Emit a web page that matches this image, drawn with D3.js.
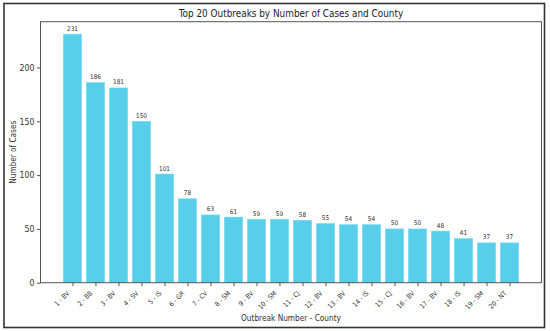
<!DOCTYPE html>
<html><head><meta charset="utf-8">
<script src="https://cdn.jsdelivr.net/npm/d3@7"></script>
<style>body{margin:0;background:#fff}svg{display:block}text{font-stretch:condensed}</style>
</head><body>
<script>
const labels = ["1 - BV","2 - BB","3 - BV","4 - SV","5 - IS","6 - GR","7 - CV","8 - SM","9 - BV","10 - SM","11 - CJ","12 - BV","13 - BV","14 - IS","15 - CJ","16 - BV","17 - BV","18 - IS","19 - SM","20 - NT"];
const cases = [231,186,181,150,101,78,63,61,59,59,58,55,54,54,50,50,48,41,37,37];
const yTicks = [0,50,100,150,200];

const W=550,H=331;
const m={l:40.5,r:541.5,t:21.7,b:282.7};
const svg=d3.select("body").append("svg").attr("width",W).attr("height",H);
const font="'DejaVu Sans Condensed', 'DejaVu Sans', sans-serif";

svg.append("rect").attr("x",4).attr("y",3.5).attr("width",540.5).attr("height",324)
  .attr("fill","#fff").attr("stroke","#333").attr("stroke-width",1.6);

const x=d3.scaleLinear().domain([-1.39,labels.length-1+1.39]).range([m.l,m.r]);
const y=d3.scaleLinear().domain([0,d3.max(cases)*1.05]).range([m.b,m.t]);
const bw=x(0.4)-x(-0.4);

const g=svg.append("g");
g.selectAll("rect.bar").data(cases).join("rect").attr("class","bar")
  .attr("x",(d,i)=>x(i)-bw/2).attr("width",bw)
  .attr("y",d=>y(d)).attr("height",d=>y(0)-y(d))
  .attr("fill","#58CEEB").attr("stroke","#7fdcf2").attr("stroke-width",0.6);

function fit(sel,target){const n=sel.node();const l=n.getComputedTextLength();const fs=+sel.attr("font-size");sel.attr("font-size",fs*target/l);}

const vals=g.selectAll("text.val").data(cases).join("text").attr("class","val")
  .attr("x",(d,i)=>x(i)).attr("y",d=>y(d)-3.5)
  .attr("text-anchor","middle").attr("font-family",font).attr("font-size",6.5).attr("fill","#333")
  .text(d=>d);
{const l=vals.node().getComputedTextLength();vals.attr("font-size",6.5*11/l);}

// axes
const yAxis=d3.axisLeft(y).tickValues(yTicks).tickSize(3.5).tickPadding(2.5);
const ya=svg.append("g").attr("transform",`translate(${m.l},0)`).call(yAxis);
ya.select(".domain").remove();
ya.selectAll("text").attr("font-family",font).attr("font-size",9).attr("fill","#333");
{const n=ya.selectAll("text").filter(d=>d===200);const l=n.node().getComputedTextLength();ya.selectAll("text").attr("font-size",9*15/l);}
ya.selectAll("line").attr("stroke","#555");

const xAxis=d3.axisBottom(x).tickValues(d3.range(labels.length)).tickFormat(i=>labels[i]).tickSize(3.5);
const xa=svg.append("g").attr("transform",`translate(0,${m.b})`).call(xAxis);
xa.select(".domain").remove();
xa.selectAll("line").attr("stroke","#555");
xa.selectAll("text").attr("font-family",font).attr("font-size",7).attr("fill","#333")
  .attr("text-anchor","end").attr("dy",null).attr("y",0)
  .attr("transform","translate(-3,11) rotate(-45)");
{const l=xa.select("text").node().getComputedTextLength();xa.selectAll("text").attr("font-size",7*18/l);}

svg.append("rect").attr("x",m.l).attr("y",m.t).attr("width",m.r-m.l).attr("height",m.b-m.t)
  .attr("fill","none").attr("stroke","#555").attr("stroke-width",1);

const t=svg.append("text").attr("x",(m.l+m.r)/2).attr("y",17).attr("text-anchor","middle")
  .attr("font-family",font).attr("font-size",10).attr("fill","#222")
  .text("Top 20 Outbreaks by Number of Cases and County");
fit(t,225);
const xl=svg.append("text").attr("x",(m.l+m.r)/2).attr("y",320.5).attr("text-anchor","middle")
  .attr("font-family",font).attr("font-size",8.5).attr("fill","#333")
  .text("Outbreak Number - County");
fit(xl,100);
const yl=svg.append("text").attr("transform",`translate(16,${(m.t+m.b)/2}) rotate(-90)`).attr("text-anchor","middle")
  .attr("font-family",font).attr("font-size",8.5).attr("fill","#333")
  .text("Number of Cases");
fit(yl,63);
</script>
</body></html>
